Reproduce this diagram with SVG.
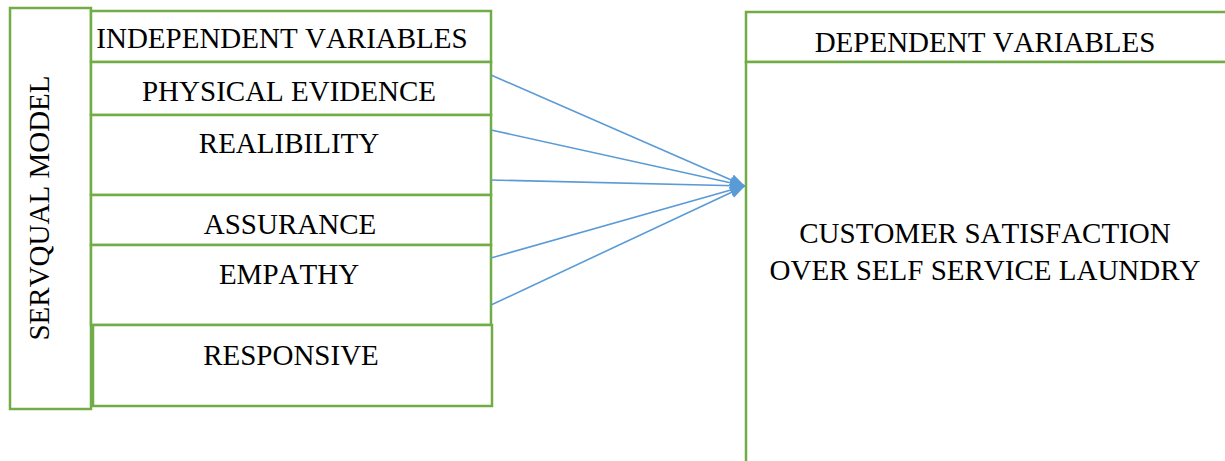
<svg xmlns="http://www.w3.org/2000/svg" width="1225" height="461" viewBox="0 0 1225 461">
  <style>
    .box { fill: #ffffff; stroke: #70AD47; stroke-width: 2.5; }
    .lbl { font-family: "Liberation Serif", "Times New Roman", serif; font-size: 29px; fill: #000000; text-anchor: middle; font-kerning: none; }
    .link { stroke: #5B9BD5; stroke-width: 1.6; fill: none; marker-end: url(#arrow); }
  </style>
  <defs>
    <marker id="arrow" markerUnits="userSpaceOnUse" markerWidth="16" markerHeight="16" viewBox="0 0 16 16" refX="15" refY="8" orient="auto">
      <path d="M0,2 L15,8 L0,14 Z" fill="#5B9BD5"/>
    </marker>
  </defs>
  <rect width="1225" height="461" fill="#ffffff"/>

  <!-- side label -->
  <g id="servqual-model">
    <rect class="box" x="10" y="8" width="81" height="401"/>
    <text class="lbl" transform="translate(49,208) rotate(-90)">SERVQUAL MODEL</text>
  </g>

  <!-- independent variable column -->
  <g id="independent-header">
    <rect class="box" x="91" y="11" width="400" height="51"/>
    <text class="lbl" x="282" y="48">INDEPENDENT VARIABLES</text>
  </g>
  <g id="physical-evidence">
    <rect class="box" x="91" y="62" width="400" height="53"/>
    <text class="lbl" x="289" y="101">PHYSICAL EVIDENCE</text>
  </g>
  <g id="realibility">
    <rect class="box" x="91" y="115" width="400" height="80"/>
    <text class="lbl" x="289" y="153">REALIBILITY</text>
  </g>
  <g id="assurance">
    <rect class="box" x="91" y="195" width="400" height="50"/>
    <text class="lbl" x="290" y="234">ASSURANCE</text>
  </g>
  <g id="empathy">
    <rect class="box" x="91" y="245" width="400" height="80"/>
    <text class="lbl" x="289" y="284">EMPATHY</text>
  </g>
  <g id="responsive">
    <rect class="box" x="93" y="325" width="399" height="81"/>
    <text class="lbl" x="291" y="365">RESPONSIVE</text>
  </g>

  <!-- dependent variable column -->
  <g id="dependent-header">
    <rect class="box" x="746" y="12" width="490" height="50"/>
    <text class="lbl" x="985" y="52">DEPENDENT VARIABLES</text>
  </g>
  <g id="customer-satisfaction">
    <rect class="box" x="746" y="62" width="490" height="410"/>
    <text class="lbl" x="985" y="243">CUSTOMER SATISFACTION</text>
    <text class="lbl" x="985" y="280">OVER SELF SERVICE LAUNDRY</text>
  </g>

  <!-- connectors -->
  <g id="connectors">
    <line class="link" x1="491" y1="75" x2="745" y2="186"/>
    <line class="link" x1="491" y1="130" x2="745" y2="186"/>
    <line class="link" x1="491" y1="180" x2="745" y2="186"/>
    <line class="link" x1="491" y1="258" x2="745" y2="186"/>
    <line class="link" x1="491" y1="305" x2="745" y2="186"/>
  </g>
</svg>
